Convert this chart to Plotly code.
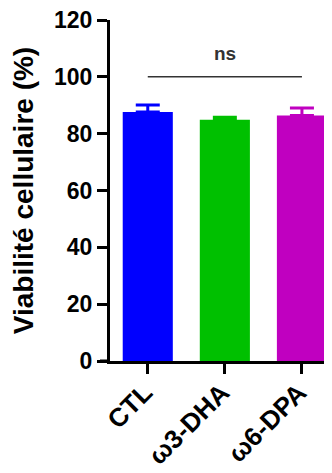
import plotly.graph_objects as go

categories = ["CTL", "ω3-DHA", "ω6-DPA"]
viability = [87.6, 84.9, 86.4]
sem = [2.5, 0.9, 2.6]
bar_colors = ["#0000FF", "#00C000", "#C000C0"]
y_ticks = [0, 20, 40, 60, 80, 100, 120]
sig_level = 100
sig_label = "ns"

FONT = "Arial, Liberation Sans, sans-serif"

fig = go.Figure()
for c, v, e, col in zip(categories, viability, sem, bar_colors):
    fig.add_trace(go.Bar(
        x=[c], y=[v], width=0.65,
        marker=dict(color=col, line=dict(width=0)),
        error_y=dict(type="data", array=[e], symmetric=False, arrayminus=[0],
                     color=col, thickness=3, width=12),
        showlegend=False,
    ))

# significance line
fig.add_trace(go.Scatter(
    x=[categories[0], categories[-1]], y=[sig_level, sig_level], mode="lines",
    line=dict(color="#333333", width=1.5), showlegend=False, hoverinfo="skip",
))
fig.add_annotation(x=categories[1], y=sig_level, yref="y", text=sig_label,
                   showarrow=False, yshift=23,
                   font=dict(family=FONT, size=19, color="#333333", weight="bold"))

fig.update_layout(
    width=324, height=465,
    margin=dict(l=102, r=0, t=12, b=112),
    plot_bgcolor="white", paper_bgcolor="white",
    font=dict(family=FONT, color="black"),
    bargap=0.35,
    xaxis=dict(
        type="category", range=[-0.49, 2.39], automargin=False,
        showline=True, linecolor="black", linewidth=3,
        ticks="outside", ticklen=10, tickwidth=3, tickcolor="black",
        tickangle=-45, ticklabelstandoff=-7, ticklabelshift=-3,
        ticklabeloverflow="allow",
        tickfont=dict(family=FONT, size=26, color="black", weight="bold"),
        showgrid=False, zeroline=False,
    ),
    yaxis=dict(
        range=[0, 120], tickvals=y_ticks, automargin=False,
        showline=True, linecolor="black", linewidth=3,
        ticks="outside", ticklen=10, tickwidth=3, tickcolor="black",
        ticklabeloverflow="allow",
        tickfont=dict(family=FONT, size=23, color="black", weight="bold"),
        showgrid=False, zeroline=False,
        title=dict(text="Viabilité cellulaire (%)", standoff=20,
                   font=dict(family=FONT, size=28, color="black", weight="bold")),
    ),
)

# x-axis line extension to the left (GraphPad style)
fig.add_shape(type="line", xref="paper", yref="paper",
              x0=-10 / 222, x1=0, y0=0, y1=0,
              line=dict(color="black", width=3))

fig.write_html("out.html")
